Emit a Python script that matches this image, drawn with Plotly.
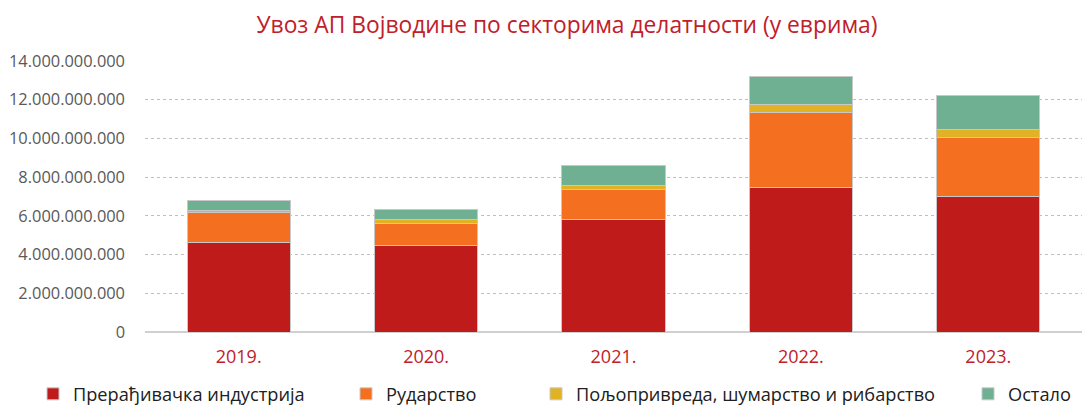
import plotly.graph_objects as go

# Import of AP Vojvodina by activity sector, in euros
years = ["2019.", "2020.", "2021.", "2022.", "2023."]
manufacturing = [4.60e9, 4.48e9, 5.79e9, 7.48e9, 6.99e9]
mining = [1.55e9, 1.14e9, 1.55e9, 3.85e9, 3.05e9]
agriculture = [0.12e9, 0.20e9, 0.25e9, 0.40e9, 0.43e9]
other = [0.51e9, 0.52e9, 0.99e9, 1.46e9, 1.76e9]

series = [
    ("Прерађивачка индустрија", manufacturing, "#BF1B1B", "legend", 33),
    ("Рударство", mining, "#F47020", "legend2", 346),
    ("Пољопривреда, шумарство и рибарство", agriculture, "#E2B225", "legend3", 536),
    ("Остало", other, "#6FAF92", "legend4", 968),
]

fig = go.Figure()
for name, vals, color, leg, _ in series:
    fig.add_trace(go.Bar(
        x=years, y=vals, name=name, legend=leg,
        marker=dict(color=color, line=dict(color="#C8C8C8", width=1)),
    ))

font = "Open Sans, Liberation Sans, sans-serif"
legend_style = dict(
    orientation="h", yref="container", y=13 / 407, yanchor="middle",
    xref="container", xanchor="left",
    font=dict(family=font, size=18.2, color="#202020"),
    bgcolor="rgba(0,0,0,0)", itemwidth=30,
)

layout_legends = {}
for name, vals, color, leg, xpx in series:
    layout_legends[leg] = dict(legend_style, x=xpx / 1087)

fig.update_layout(
    width=1087, height=407,
    margin=dict(l=145, r=5, t=61, b=75),
    paper_bgcolor="white", plot_bgcolor="white",
    barmode="stack", bargap=0.45,
    separators=",.",
    showlegend=True,
    title=dict(
        text="Увоз АП Војводине по секторима делатности (у еврима)",
        x=567 / 1087, xanchor="center", xref="container",
        y=1 - 25 / 407, yanchor="middle", yref="container",
        font=dict(family=font, size=22.8, color="#C0202A"),
    ),
    xaxis=dict(
        showgrid=False, showline=False, ticks="",
        tickfont=dict(family=font, size=18, color="#C0202A"),
        ticklabelstandoff=12,
    ),
    yaxis=dict(
        range=[0, 14e9], dtick=2e9, tickformat=",d",
        showgrid=True, gridcolor="#BFBFBF", griddash="dot", gridwidth=1,
        zeroline=True, zerolinecolor="#D0D0D0", zerolinewidth=2,
        showline=False, ticks="",
        tickfont=dict(family=font, size=16.4, color="#595959"),
        ticklabelstandoff=19,
    ),
    **layout_legends,
)

fig.write_html("out.html")
